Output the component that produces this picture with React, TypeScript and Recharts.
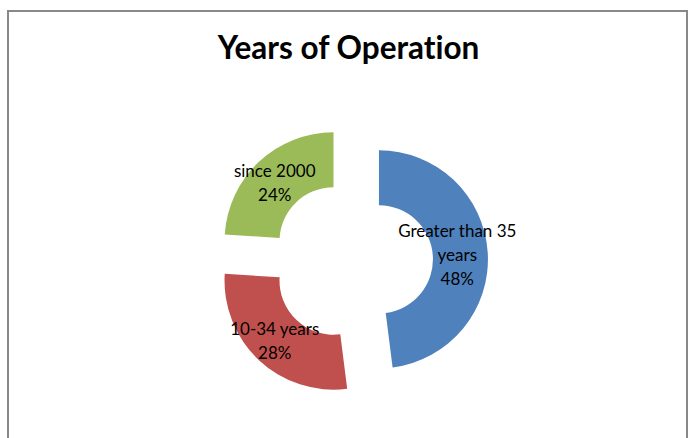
import { Cell, Pie, PieChart } from 'recharts'

// slices, clockwise from 12 o'clock
const CATEGORIES = ['Greater than 35 years', '10-34 years', 'since 2000']
const VALUES = [48, 28, 24]
const COLORS = ['#4F81BD', '#C0504D', '#9BBB59']

const W = 697
const H = 438
const CX = 347
const CY = 256
const OUTER = 109
const INNER = 54
const EXPLODE = 27
const RADIAN = Math.PI / 180

const rows = CATEGORIES.map((name, i) => ({ name, value: VALUES[i] }))
const total = VALUES.reduce((a, b) => a + b, 0)

// bisector angle of each slice, in recharts' convention (0 = 3 o'clock, ccw)
function midAngle(i: number) {
  const before = VALUES.slice(0, i).reduce((a, b) => a + b, 0)
  return 90 - (360 * (before + VALUES[i] / 2)) / total
}

// long names wrap onto two lines like excel does
function splitName(name: string): string[] {
  if (name.length <= 15) return [name]
  const cut = name.lastIndexOf(' ')
  return [name.slice(0, cut), name.slice(cut + 1)]
}

function makeLabel(target: number) {
  return (props: any) => {
    if (props.index !== target) return null
    const r = (props.innerRadius + props.outerRadius) / 2
    const x = props.cx + r * Math.cos(-props.midAngle * RADIAN) - 3
    const y = props.cy + r * Math.sin(-props.midAngle * RADIAN)
    const lines = [...splitName(CATEGORIES[target]), `${Math.round(props.percent * 100)}%`]
    const lh = 24
    const top = y - ((lines.length - 1) * lh) / 2
    return (
      <text
        x={x}
        y={top}
        textAnchor="middle"
        dominantBaseline="central"
        fill="#000"
        fontSize={17}
        fontFamily="Lato, 'Noto Sans', sans-serif"
      >
        {lines.map((l, j) => (
          <tspan key={j} x={x} y={top + j * lh}>
            {l}
          </tspan>
        ))}
      </text>
    )
  }
}

export default function App() {
  return (
    <div
      style={{
        position: 'absolute',
        left: 0,
        top: 0,
        width: W,
        height: H,
        background: '#fff',
        overflow: 'hidden',
      }}
    >
      <div
        style={{
          position: 'absolute',
          left: 7,
          top: 10,
          width: 681,
          height: 440,
          border: '2px solid #898989',
          boxSizing: 'border-box',
        }}
      />
      <div
        style={{
          position: 'absolute',
          left: 0,
          top: 27,
          width: W,
          textAlign: 'center',
          fontFamily: 'Lato, sans-serif',
          fontWeight: 700,
          fontSize: 31.5,
          lineHeight: '40px',
          color: '#000',
          fontVariantLigatures: 'none',
        }}
      >
        Years of Operation
      </div>
      <div style={{ position: 'absolute', left: 0, top: 0 }}>
        <PieChart width={W} height={H}>
          {rows.map((_, k) => {
            const a = midAngle(k)
            return (
              <Pie
                key={k}
                data={rows}
                dataKey="value"
                nameKey="name"
                cx={CX + EXPLODE * Math.cos(a * RADIAN)}
                cy={CY - EXPLODE * Math.sin(a * RADIAN)}
                innerRadius={INNER}
                outerRadius={OUTER}
                startAngle={90}
                endAngle={-270}
                stroke="none"
                labelLine={false}
                label={makeLabel(k)}
                isAnimationActive={false}
              >
                {rows.map((_, i) => (
                  <Cell key={i} fill={i === k ? COLORS[i] : 'transparent'} stroke="none" />
                ))}
              </Pie>
            )
          })}
        </PieChart>
      </div>
    </div>
  )
}
